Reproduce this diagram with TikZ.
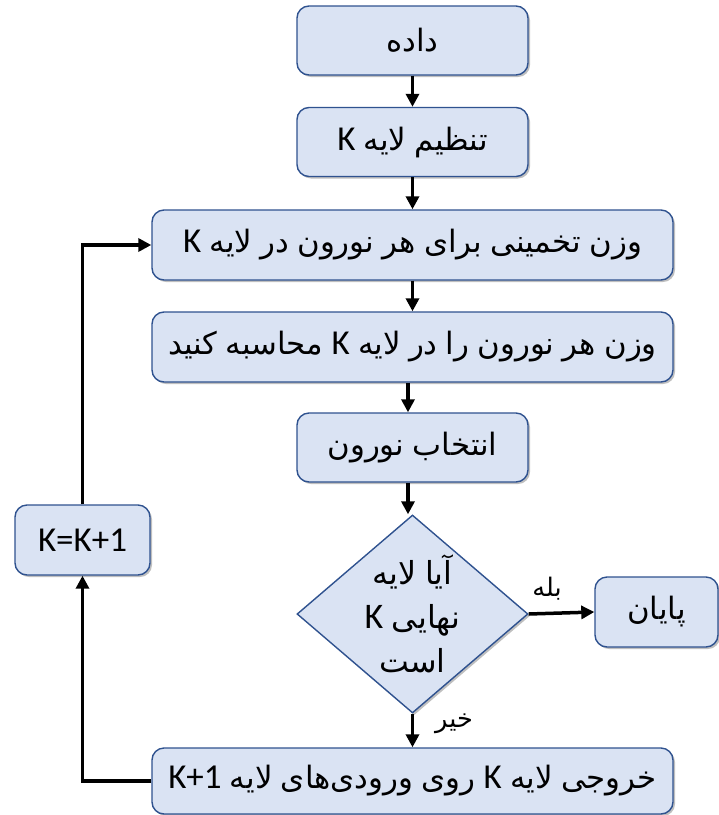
\documentclass[tikz,border=0pt]{standalone}
\usepackage{fontspec}
\setmainfont{Carlito}
\newfontfamily\arabicfont[Script=Arabic,Scale=0.88,WordSpace=0.85]{DejaVu Sans}
\TeXXeTstate=1
\usetikzlibrary{arrows.meta,shapes.geometric,shadows}
\newcommand\fa[1]{{\arabicfont\beginR #1\endR}}
\newcommand\lat[1]{{\normalfont\beginL #1\endL}}
\definecolor{boxfill}{HTML}{DAE3F3}
\definecolor{boxline}{HTML}{2F528F}
\tikzset{
  flowbox/.style={draw=boxline, line width=1.4pt, fill=boxfill, rounded corners=12pt,
    inner sep=0pt, font=\fontsize{35}{40}\selectfont,
    drop shadow={shadow xshift=2pt, shadow yshift=-2pt, opacity=0.25, fill=black}},
  decision/.style={draw=boxline, line width=1.4pt, fill=boxfill, shape=diamond,
    inner sep=0pt, minimum width=231pt, minimum height=198pt,
    drop shadow={shadow xshift=2pt, shadow yshift=-2pt, opacity=0.25, fill=black}},
  flow/.style={line width=3.5pt, -{Triangle[length=13pt,width=13pt]}},
  branch/.style={font=\fontsize{29}{32}\selectfont, inner sep=0pt},
}
\begin{document}
\begin{tikzpicture}[x=1pt,y=-1pt]
\useasboundingbox (0,0) rectangle (719,815);

% process steps
\node[flowbox, minimum width=231pt, minimum height=69pt] (data) at (412.5,40.5) {\fa{داده}};
\node[flowbox, minimum width=231pt, minimum height=69pt] (setk) at (412.5,142) {\fa{تنظیم لایه \lat{K}}};
\node[flowbox, minimum width=521pt, minimum height=70pt] (guess) at (412.5,245) {\fa{وزن تخمینی برای هر نورون در لایه \lat{K}}};
\node[flowbox, minimum width=521pt, minimum height=70pt] (calc) at (412.5,347) {\fa{وزن هر نورون را در لایه \lat{K} محاسبه کنید}};
\node[flowbox, minimum width=231pt, minimum height=69pt] (pick) at (412.5,447.5) {\fa{انتخاب نورون}};

% decision
\node[decision] (last) at (412.5,614) {};
\node[font=\fontsize{36}{44}\selectfont, align=center, inner sep=0pt] (lasttxt) at (412.5,614)
  {\fa{آیا لایه}\\ \fa{نهایی \lat{K}}\\ \fa{است}};

\node[flowbox, minimum width=123pt, minimum height=70pt] (stop) at (656.5,612) {\fa{پایان}};
\node[flowbox, minimum width=521pt, minimum height=66pt] (feed) at (412.5,781) {\fa{خروجی لایه \lat{K} روی ورودی‌های لایه \lat{K+1}}};
\node[flowbox, minimum width=135pt, minimum height=70pt] (inc) at (82.5,540) {K=K+1};

% branch labels
\node[branch] (yes) at (547,589) {\fa{بله}};
\node[branch] (no) at (454,724) {\fa{خیر}};

% connectors
\draw[flow] (data) -- (setk);
\draw[flow] (setk) -- (guess);
\draw[flow] (guess) -- (calc);
\draw[flow] ([xshift=-4.5pt]calc.south) -- ([xshift=-4.5pt]pick.north);
\draw[flow] ([xshift=-4.5pt]pick.south) -- ([xshift=-4.5pt]pick.south |- last.north);
\draw[flow] (last.east) -- (stop.west);
\draw[flow] (last.south) -- (feed.north);
\draw[flow] (feed.west) -| (inc.south);
\draw[flow] (inc.north) |- (guess.west);
\end{tikzpicture}
\end{document}
